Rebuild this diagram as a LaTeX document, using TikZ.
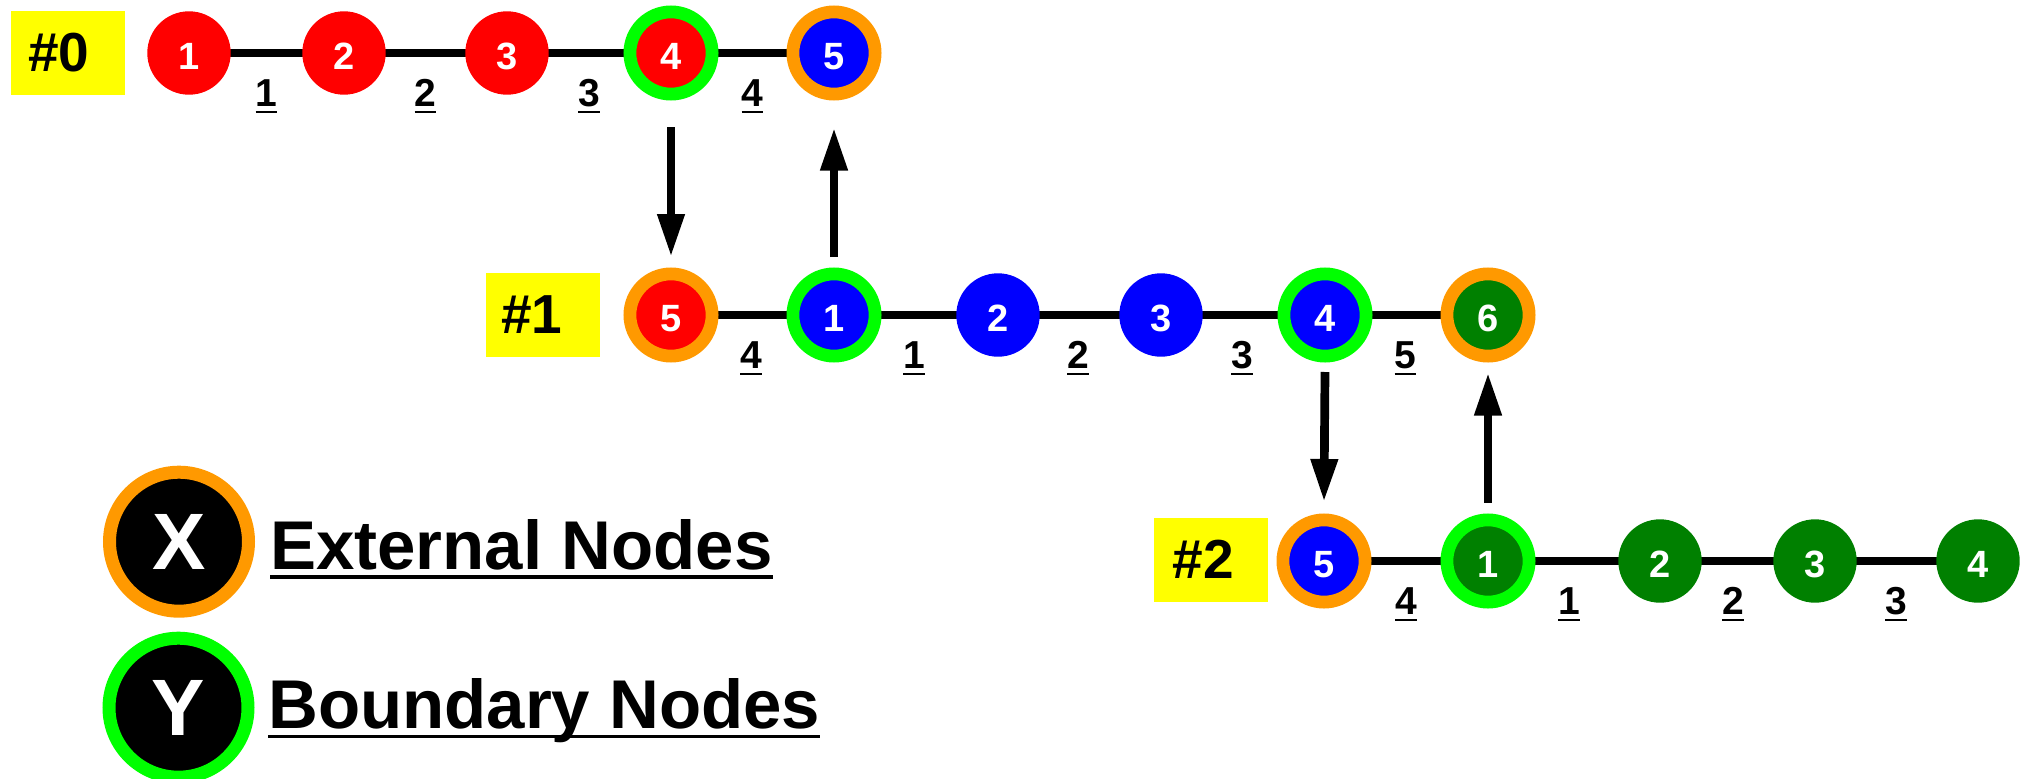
\documentclass[tikz,border=0pt]{standalone}
\usepackage{fontspec}
\setmainfont{Liberation Sans}
\usetikzlibrary{arrows.meta,backgrounds}
\definecolor{cred}{RGB}{255,0,0}
\definecolor{cblue}{RGB}{0,0,255}
\definecolor{cdgreen}{RGB}{0,128,0}
\definecolor{cring}{RGB}{0,255,0}
\definecolor{corange}{RGB}{255,153,0}
\definecolor{cyellow}{RGB}{255,255,0}
\newsavebox{\ulbox}
\newcommand{\ulx}[3]{\sbox{\ulbox}{#3}\rlap{\rule[-#1]{\wd\ulbox}{#2}}\usebox{\ulbox}}
\tikzset{
  vtx/.style={circle, inner sep=0pt, text=white,
    font=\fontsize{38pt}{38pt}\selectfont\bfseries, text height=32.4pt, text depth=0pt},
  plain/.style={vtx, minimum size=83.4pt, fill=#1},
  ext/.style={vtx, minimum size=82.2pt, line width=12.8pt, draw=corange, fill=#1},
  bnd/.style={vtx, minimum size=82.2pt, line width=12.8pt, draw=cring, fill=#1},
  edge/.style={line width=8pt, black},
  elab/.style={anchor=base, inner sep=0pt, font=\fontsize{39pt}{39pt}\selectfont\bfseries},
  pbox/.style={fill=cyellow, minimum width=114pt, minimum height=84pt, inner sep=0pt},
  ptext/.style={inner sep=0pt, font=\fontsize{55pt}{55pt}\selectfont\bfseries},
  arr/.style={line width=8.7pt, -{Triangle[length=43pt,width=25.5pt]}},
  lring/.style={circle, inner sep=0pt, minimum size=139pt, line width=13pt, draw=#1,
    fill=black, text=white, font=\fontsize{80pt}{80pt}\selectfont\bfseries},
  ltext/.style={anchor=base west, inner sep=0pt, font=\fontsize{69pt}{69pt}\selectfont\bfseries}
}
\newcommand{\ed}[1]{\ulx{7.4pt}{2.6pt}{#1}}
\begin{document}
\begin{tikzpicture}[x=1pt,y=-1pt]
\useasboundingbox (0,0) rectangle (2022,779);
\clip (0,0) rectangle (2022,779);
% partition boxes
\node[pbox] (p0) at (68,53) {};
\node[ptext] (t0) at (59,53) {\#0};
\node[pbox] (p1) at (542.5,315) {};
\node[ptext] (t1) at (532,315) {\#1};
\node[pbox] (p2) at (1211,559.7) {};
\node[ptext] (t2) at (1203,559.7) {\#2};
% row 0
\node[plain=cred] (r0a) at (189,53) {1};
\node[plain=cred] (r0b) at (344,53) {2};
\node[plain=cred] (r0c) at (507,53) {3};
\node[bnd=cred] (r0d) at (671,53) {4};
\node[ext=cblue] (r0e) at (834,53) {5};
% row 1
\node[ext=cred] (r1a) at (671,315) {5};
\node[bnd=cblue] (r1b) at (834,315) {1};
\node[plain=cblue] (r1c) at (998,315) {2};
\node[plain=cblue] (r1d) at (1161,315) {3};
\node[bnd=cblue] (r1e) at (1325,315) {4};
\node[ext=cdgreen] (r1f) at (1488,315) {6};
% row 2
\node[ext=cblue] (r2a) at (1324,561) {5};
\node[bnd=cdgreen] (r2b) at (1488,561) {1};
\node[plain=cdgreen] (r2c) at (1660,561) {2};
\node[plain=cdgreen] (r2d) at (1815,561) {3};
\node[plain=cdgreen] (r2e) at (1978,561) {4};
% edges
\begin{scope}[on background layer]
\draw[edge] (r0a.center) -- (r0b.center) -- (r0c.center) -- (r0d.center) -- (r0e.center);
\draw[edge] (r1a.center) -- (r1b.center) -- (r1c.center) -- (r1d.center) -- (r1e.center) -- (r1f.center);
\draw[edge] (r2a.center) -- (r2b.center) -- (r2c.center) -- (r2d.center) -- (r2e.center);
\end{scope}
% edge labels
\node[elab] (l01) at (266.5,106) {\ed{1}};
\node[elab] (l02) at (425.5,106) {\ed{2}};
\node[elab] (l03) at (589,106) {\ed{3}};
\node[elab] (l04) at (752.5,106) {\ed{4}};
\node[elab] (l14) at (751,368) {\ed{4}};
\node[elab] (l11) at (914,368) {\ed{1}};
\node[elab] (l12) at (1078,368) {\ed{2}};
\node[elab] (l13) at (1242,368) {\ed{3}};
\node[elab] (l15) at (1405.5,368) {\ed{5}};
\node[elab] (l24) at (1406,614) {\ed{4}};
\node[elab] (l21) at (1569,614) {\ed{1}};
\node[elab] (l22) at (1733,614) {\ed{2}};
\node[elab] (l23) at (1896,614) {\ed{3}};
% communication arrows
\draw[arr] ([yshift=-26.5pt]r0d.south) -- ([yshift=10.5pt]r1a.north);
\draw[arr] ([yshift=10.5pt]r1b.north) -- ([yshift=-27pt]r0e.south);
\draw[arr] ([yshift=-9.5pt]r1e.south) -- ([yshift=11.5pt]r2a.north);
\draw[arr] ([yshift=11pt]r2b.north) -- ([yshift=-10pt]r1f.south);
% legend
\node[lring=corange] (lx) at (179,541.7) {X};
\node[ltext] (lxt) at (270,569.3) {\ulx{9.5pt}{3.7pt}{External Nodes}};
\node[lring=cring] (ly) at (178.5,707.7) {Y};
\node[ltext] (lyt) at (268,728.5) {\ulx{9.8pt}{3.4pt}{Boundary Nodes}};
\end{tikzpicture}
\end{document}
